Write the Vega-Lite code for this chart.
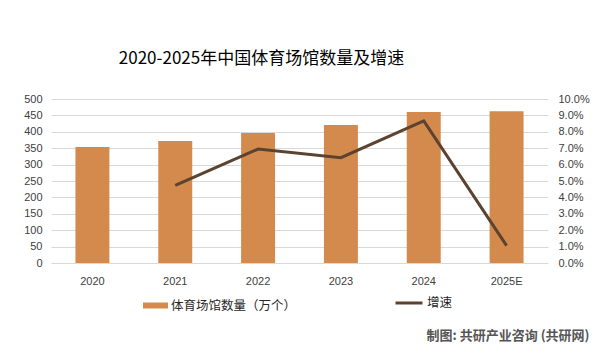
{
  "$schema": "https://vega.github.io/schema/vega-lite/v6.json",
  "width": 497,
  "height": 164,
  "autosize": {"type": "none"},
  "padding": {"left": 51, "top": 99, "right": 63, "bottom": 93},
  "background": "white",
  "title": {
    "text": "2020-2025年中国体育场馆数量及增速",
    "font": "Noto Sans CJK SC",
    "fontSize": 17,
    "fontWeight": "normal",
    "color": "#000000",
    "anchor": "middle",
    "dx": -38,
    "offset": 25
  },
  "data": {
    "values": [
      {"year": "2020", "count": 354, "growth": null},
      {"year": "2021", "count": 372, "growth": 0.0474},
      {"year": "2022", "count": 396, "growth": 0.0695},
      {"year": "2023", "count": 421, "growth": 0.0642},
      {"year": "2024", "count": 460, "growth": 0.0866},
      {"year": "2025E", "count": 463, "growth": 0.0106}
    ]
  },
  "encoding": {
    "x": {
      "field": "year",
      "type": "nominal",
      "sort": null,
      "scale": {"paddingInner": 0.59, "paddingOuter": 0.295},
      "axis": {
        "title": "制图: 共研产业咨询 (共研网)",
        "titleFont": "Noto Sans CJK SC",
        "titleFontSize": 13,
        "titleFontWeight": "bold",
        "titleColor": "#555555",
        "titleAnchor": "start",
        "titleAlign": "left",
        "titleBaseline": "middle",
        "titleX": 375,
        "titleY": 72,
        "labelAngle": 0,
        "labelFont": "Liberation Sans",
        "labelFontSize": 11,
        "labelColor": "#404040",
        "labelPadding": 12,
        "ticks": false,
        "domain": false
      }
    }
  },
  "layer": [
    {
      "mark": {"type": "bar", "color": "#D48A4C"},
      "encoding": {
        "y": {
          "field": "count",
          "type": "quantitative",
          "scale": {"domain": [0, 500]},
          "axis": {
            "title": null,
            "values": [0, 50, 100, 150, 200, 250, 300, 350, 400, 450, 500],
            "labelFont": "Liberation Sans",
            "labelFontSize": 11,
            "labelColor": "#404040",
            "labelPadding": 9,
            "ticks": false,
            "domain": false,
            "grid": true,
            "gridColor": "#D9D9D9",
            "gridWidth": 1
          }
        },
        "color": {
          "datum": "体育场馆数量（万个）",
          "scale": {"range": ["#D48A4C"]},
          "legend": {
            "title": null,
            "orient": "none",
            "legendX": 92,
            "legendY": 194,
            "symbolType": "M-1,-0.24H1V0.24H-1Z",
            "symbolSize": 625,
            "symbolStrokeWidth": 0,
            "labelFont": "Noto Sans CJK SC",
            "labelFontSize": 12.5,
            "labelColor": "#262626",
            "labelOffset": 3
          }
        }
      }
    },
    {
      "mark": {"type": "line", "strokeWidth": 3, "color": "#5C4330"},
      "encoding": {
        "y": {
          "field": "growth",
          "type": "quantitative",
          "scale": {"domain": [0, 0.1]},
          "axis": {
            "title": null,
            "orient": "right",
            "format": ".1%",
            "values": [0, 0.01, 0.02, 0.03, 0.04, 0.05, 0.06, 0.07, 0.08, 0.09, 0.1],
            "labelFont": "Liberation Sans",
            "labelFontSize": 11,
            "labelColor": "#404040",
            "labelPadding": 10,
            "ticks": false,
            "domain": false,
            "grid": false
          }
        },
        "stroke": {
          "datum": "增速",
          "scale": {"range": ["#5C4330"]},
          "legend": {
            "title": null,
            "orient": "none",
            "legendX": 343,
            "legendY": 189,
            "symbolType": "stroke",
            "symbolSize": 729,
            "symbolStrokeWidth": 3,
            "labelFont": "Noto Sans CJK SC",
            "labelFontSize": 12.5,
            "labelColor": "#262626",
            "labelOffset": 3
          }
        }
      }
    }
  ],
  "resolve": {"scale": {"y": "independent"}},
  "config": {"view": {"stroke": null}}
}
